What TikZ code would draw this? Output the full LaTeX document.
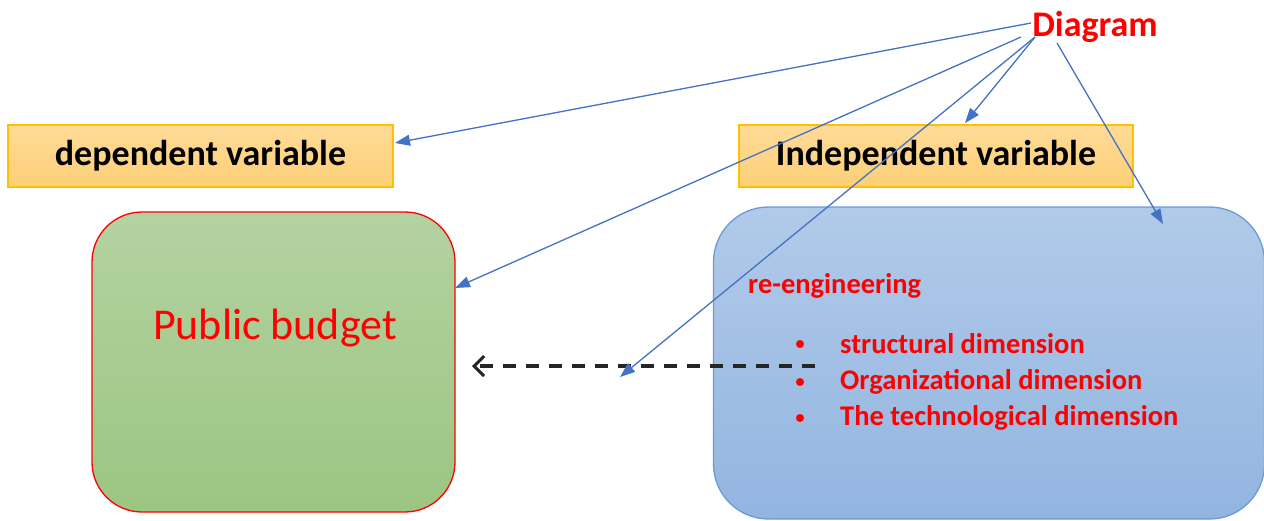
\documentclass[tikz,border=0pt]{standalone}
\usepackage{fontspec}
\setmainfont{Carlito}
\usetikzlibrary{arrows.meta}
\definecolor{orbord}{HTML}{FFC000}
\definecolor{ortop}{HTML}{FEDB96}
\definecolor{orbot}{HTML}{FDCF78}
\definecolor{grtop}{HTML}{B3D2A1}
\definecolor{grbot}{HTML}{9CC582}
\definecolor{bltop}{HTML}{B1CAE9}
\definecolor{blbot}{HTML}{92B5E0}
\definecolor{blbord}{HTML}{6A9BD6}
\definecolor{arrblue}{HTML}{4472C4}
\definecolor{txtred}{HTML}{FF0000}
\tikzset{
  varbox/.style={draw=orbord, line width=1.2pt, top color=ortop, bottom color=orbot,
    minimum height=62pt, inner sep=0pt, font=\fontsize{36}{40}\selectfont\bfseries},
  greenbox/.style={draw=txtred, line width=1.3pt, top color=grtop, bottom color=grbot,
    rounded corners=50pt, minimum width=363pt, minimum height=300pt, inner sep=0pt},
  bluebox/.style={draw=blbord, line width=1.3pt, top color=bltop, bottom color=blbot,
    rounded corners=55pt, minimum width=551pt, minimum height=312pt, inner sep=0pt},
  redtxt/.style={text=txtred, inner sep=0pt},
  itemtxt/.style={text=txtred, inner sep=0pt, anchor=west, font=\fontsize{28.5}{33}\selectfont\bfseries},
  bulletdot/.style={circle, fill=txtred, inner sep=0pt, minimum size=8pt},
  bluearrow/.style={draw=arrblue, line width=1.3pt, -{Triangle[length=15pt,width=11pt]}},
  dasharrow/.style={draw=black!85, line width=3.5pt, dash pattern=on 13pt off 10pt,
    -{Straight Barb[length=10pt,width=20pt,line width=3pt]}}
}
\begin{document}
\begin{tikzpicture}[x=1pt,y=-1pt]
\useasboundingbox (0,0) rectangle (1264,520);
% boxes
\node[varbox, minimum width=385pt] (dep) at (200.5,156) {dependent variable};
\node[varbox, minimum width=394pt] (indep) at (936,156) {Independent variable};
\node[greenbox] (pub) at (273.5,362) {};
\node[bluebox] (reng) at (989,363) {};
% texts
\node[redtxt, font=\fontsize{36}{40}\selectfont\bfseries] (diag) at (1095,27) {Diagram};
\node[redtxt, font=\fontsize{44}{48}\selectfont] (pubtxt) at (275,328) {Public budget};
\node[itemtxt] (retxt) at (748,286) {re-engineering};
\node[bulletdot] (b1) at (800,344) {};
\node[bulletdot] (b2) at (800,382) {};
\node[bulletdot] (b3) at (800,418) {};
\node[itemtxt] (i1) at (840,344) {structural dimension};
\node[itemtxt] (i2) at (840,382) {Organizational dimension};
\node[itemtxt] (i3) at (840,418) {The technological dimension};
% connector end points
\coordinate (s1) at (1031,23);
\coordinate (s2) at (1021,37);
\coordinate (s3) at (1035,37);
\coordinate (s4) at (1057,43);
\coordinate (e1) at (395,143);
\coordinate (e2) at (455,288);
\coordinate (e3) at (965,123);
\coordinate (e4) at (620,377);
\coordinate (e5) at (1163,224);
\coordinate (dstart) at (815,366);
\coordinate (dend) at (472,366);
% connectors
\draw[dasharrow] (dstart) -- (dend);
\draw[bluearrow] (s1) -- (e1);
\draw[bluearrow] (s2) -- (e2);
\draw[bluearrow] (s3) -- (e3);
\draw[bluearrow] (s3) -- (e4);
\draw[bluearrow] (s4) -- (e5);
\end{tikzpicture}
\end{document}
